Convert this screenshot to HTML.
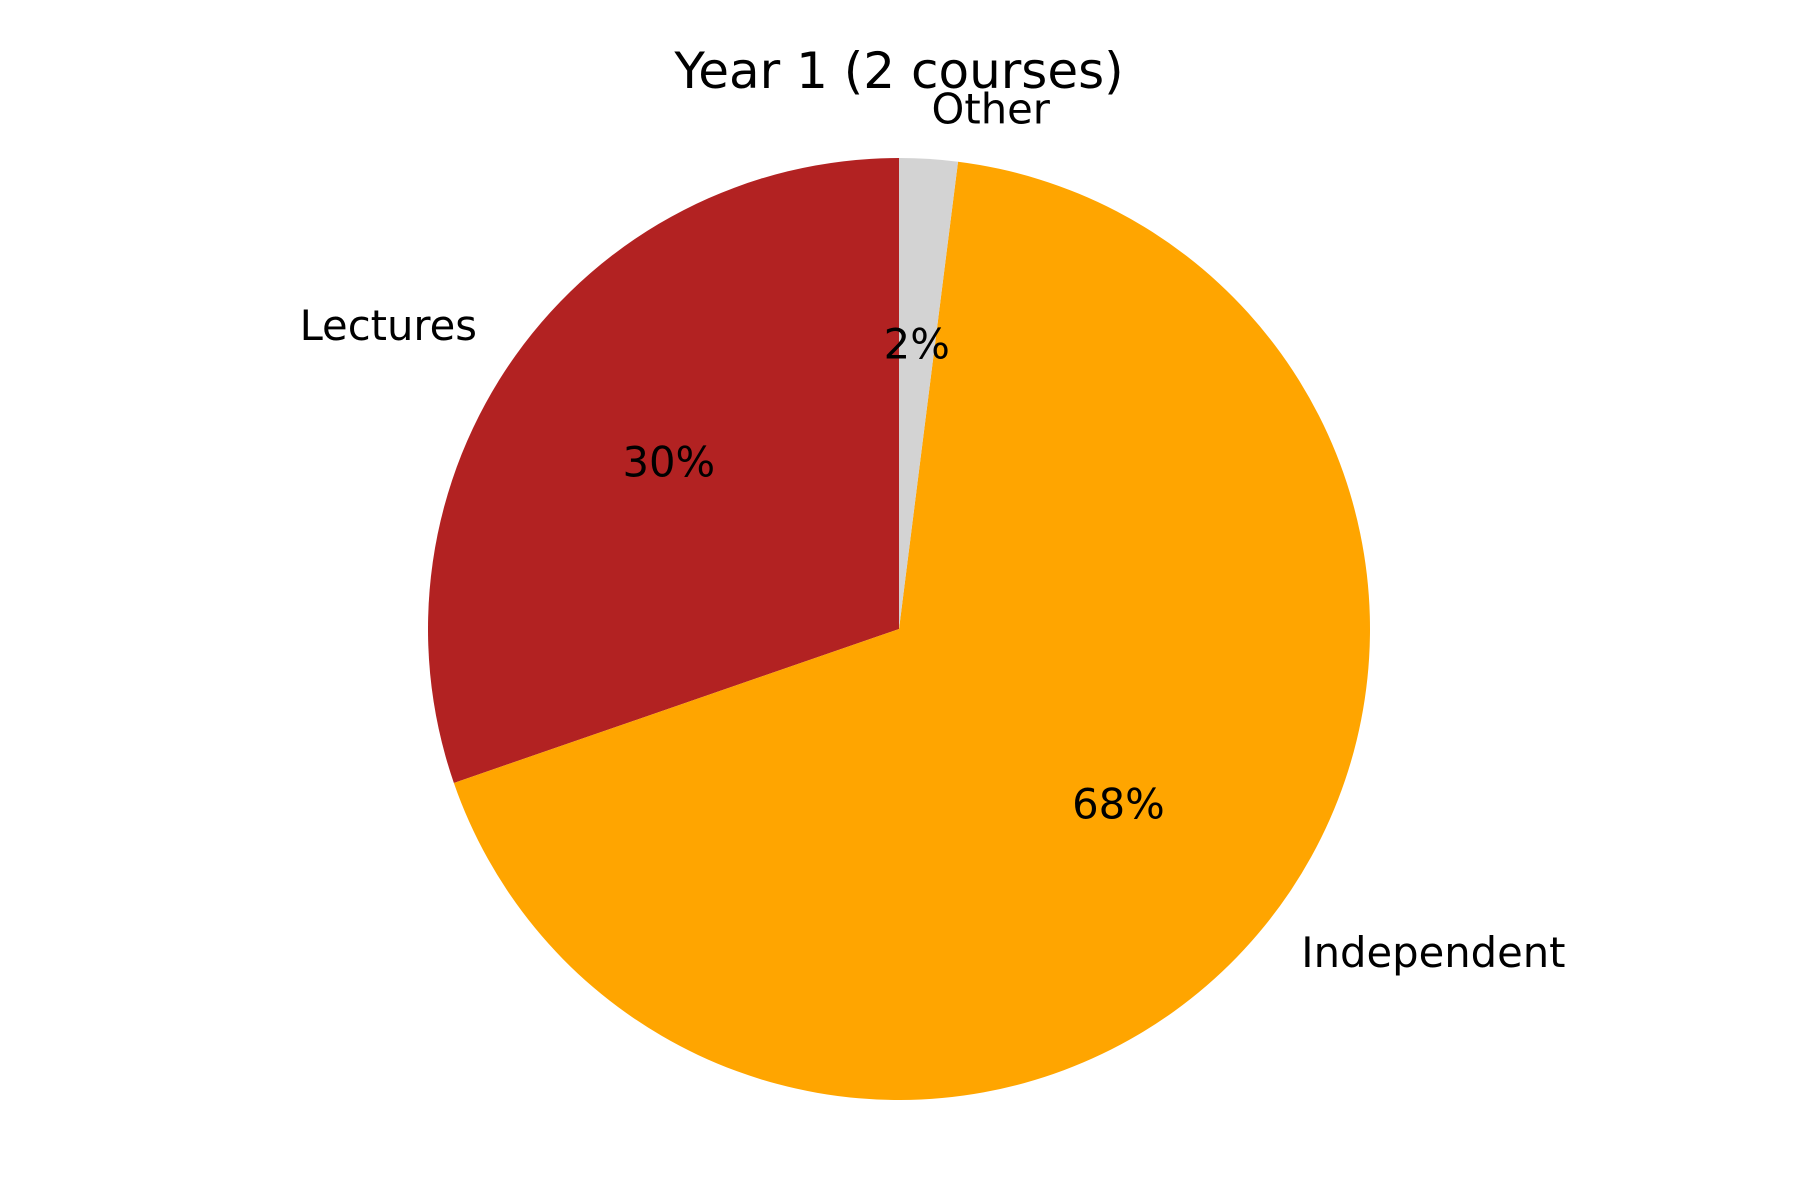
<!DOCTYPE html>
<html><head><meta charset="utf-8"><style>
html,body{margin:0;padding:0;background:#fff;}
svg{display:block;font-family:"DejaVu Sans","Liberation Sans",sans-serif;}
</style></head><body>
<svg id="chart" width="1800" height="1200" viewBox="0 0 1800 1200" xmlns="http://www.w3.org/2000/svg">
<rect width="1800" height="1200" fill="#fff"/>
<text x="899" y="88" font-size="50" text-anchor="middle" fill="#000">Year 1 (2 courses)</text>
<g id="slices"></g>
<g id="labels"></g>
</svg>
<script>
const categories = ["Lectures", "Independent", "Other"];
const values = [30.3, 67.7, 2.0];
const colors = ["#b22222", "#ffa500", "#d3d3d3"];
const pctLabels = ["30%", "68%", "2%"];

const cx = 899, cy = 629, r = 471;
const textShift = -3;
const NS = "http://www.w3.org/2000/svg";
const total = values.reduce((a, b) => a + b, 0);
const gS = document.getElementById("slices");
const gL = document.getElementById("labels");
function pt(deg, rad) {
  const a = deg * Math.PI / 180;
  return [cx + rad * Math.cos(a), cy - rad * Math.sin(a)];
}
let start = 90;
values.forEach((v, i) => {
  const sweep = v / total * 360;
  const end = start + sweep;
  const [x1, y1] = pt(start, r), [x2, y2] = pt(end, r);
  const large = sweep > 180 ? 1 : 0;
  const p = document.createElementNS(NS, "path");
  p.setAttribute("d", `M${cx},${cy} L${x1},${y1} A${r},${r} 0 ${large} 0 ${x2},${y2} Z`);
  p.setAttribute("fill", colors[i]);
  
  
  gS.appendChild(p);
  const mid = start + sweep / 2;
  const [lx, ly] = pt(mid, r * 1.1);
  const t = document.createElementNS(NS, "text");
  t.setAttribute("x", lx); t.setAttribute("y", ly + textShift);
  t.setAttribute("font-size", "41.7");
  t.setAttribute("dominant-baseline", "central");
  t.setAttribute("text-anchor", Math.cos(mid * Math.PI / 180) >= 0 ? "start" : "end");
  t.textContent = categories[i];
  
  
  gL.appendChild(t);
  const [px, py] = pt(mid, r * 0.6);
  const tp = document.createElementNS(NS, "text");
  tp.setAttribute("x", px); tp.setAttribute("y", py + textShift);
  tp.setAttribute("font-size", "41.7");
  tp.setAttribute("dominant-baseline", "central");
  tp.setAttribute("text-anchor", "middle");
  tp.textContent = pctLabels[i];
  
  
  gL.appendChild(tp);
  start = end;
});
</script>
</body></html>
